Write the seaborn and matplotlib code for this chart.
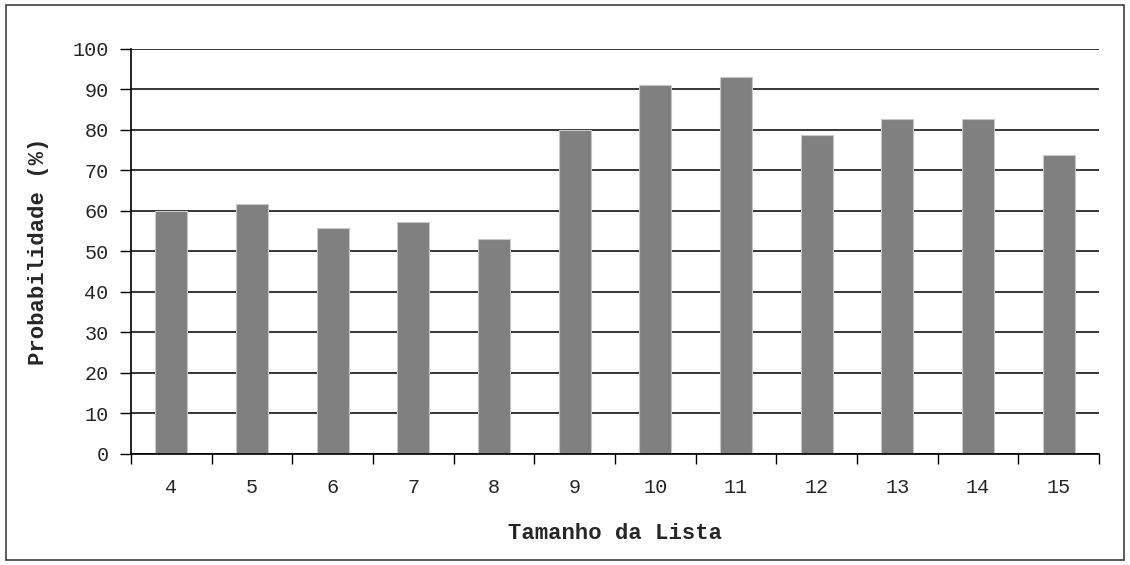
import numpy as np
import pandas as pd
import matplotlib
matplotlib.use("Agg")
import matplotlib.pyplot as plt
from matplotlib.patches import Rectangle
import seaborn as sns

# List sizes and the measured probability for each
tamanhos = ["4", "5", "6", "7", "8", "9", "10", "11", "12", "13", "14", "15"]
probabilidade = [60.0, 61.7, 55.7, 57.2, 53.2, 80.0, 91.2, 93.2, 78.7, 82.7, 82.7, 73.7]
y_ticks = [0, 10, 20, 30, 40, 50, 60, 70, 80, 90, 100]

df = pd.DataFrame({"Tamanho": tamanhos, "Prob": probabilidade})

sns.set_style("white")
mono = ["Liberation Mono", "DejaVu Sans Mono"]

fig = plt.figure(figsize=(11.3, 5.65), dpi=100)
ax = fig.add_axes([0.1159, 0.1965, 0.9726 - 0.1159, 0.9133 - 0.1965])

# Gridlines behind bars
ax.set_axisbelow(True)
ax.yaxis.grid(True, color="black", linewidth=1.1)
ax.xaxis.grid(False)

sns.barplot(data=df, x="Tamanho", y="Prob", order=tamanhos, color="#808080",
            saturation=1, width=0.4, edgecolor="#c8c8c8", linewidth=0.8, ax=ax)

ax.set_xlim(-0.5, len(tamanhos) - 0.5)
ax.set_ylim(0, 100)
ax.set_yticks(y_ticks)
ax.set_yticklabels([str(v) for v in y_ticks], family=mono, fontsize=14.5)

# Tick marks on category boundaries, labels at category centres
pos = np.arange(len(tamanhos))
ax.set_xticks(np.arange(-0.5, len(tamanhos), 1.0))
ax.set_xticklabels([])
ax.set_xticks(pos, minor=True)
ax.set_xticklabels(tamanhos, minor=True, family=mono, fontsize=14.5)
ax.tick_params(axis="x", which="major", direction="out", length=7, width=1, color="black", bottom=True)
ax.tick_params(axis="x", which="minor", length=0, pad=17)
ax.tick_params(axis="y", direction="out", length=8, width=1, color="black", left=True, pad=8)

for side in ["top", "right"]:
    ax.spines[side].set_visible(False)
for side in ["left", "bottom"]:
    ax.spines[side].set_color("black")
    ax.spines[side].set_linewidth(1.2)

ax.set_xlabel("Tamanho da Lista", family=mono, fontsize=16, fontweight="bold", labelpad=19)
ax.set_ylabel("Probabilidade (%)", family=mono, fontsize=16, fontweight="bold", labelpad=17)

# Outer frame around the whole chart
fig.patches.append(Rectangle((6 / 1130, 5 / 565), 1118 / 1130, 555 / 565,
                             transform=fig.transFigure, fill=False,
                             edgecolor="#404040", linewidth=1.2))

fig.savefig("out.png", dpi=100, facecolor="white")
